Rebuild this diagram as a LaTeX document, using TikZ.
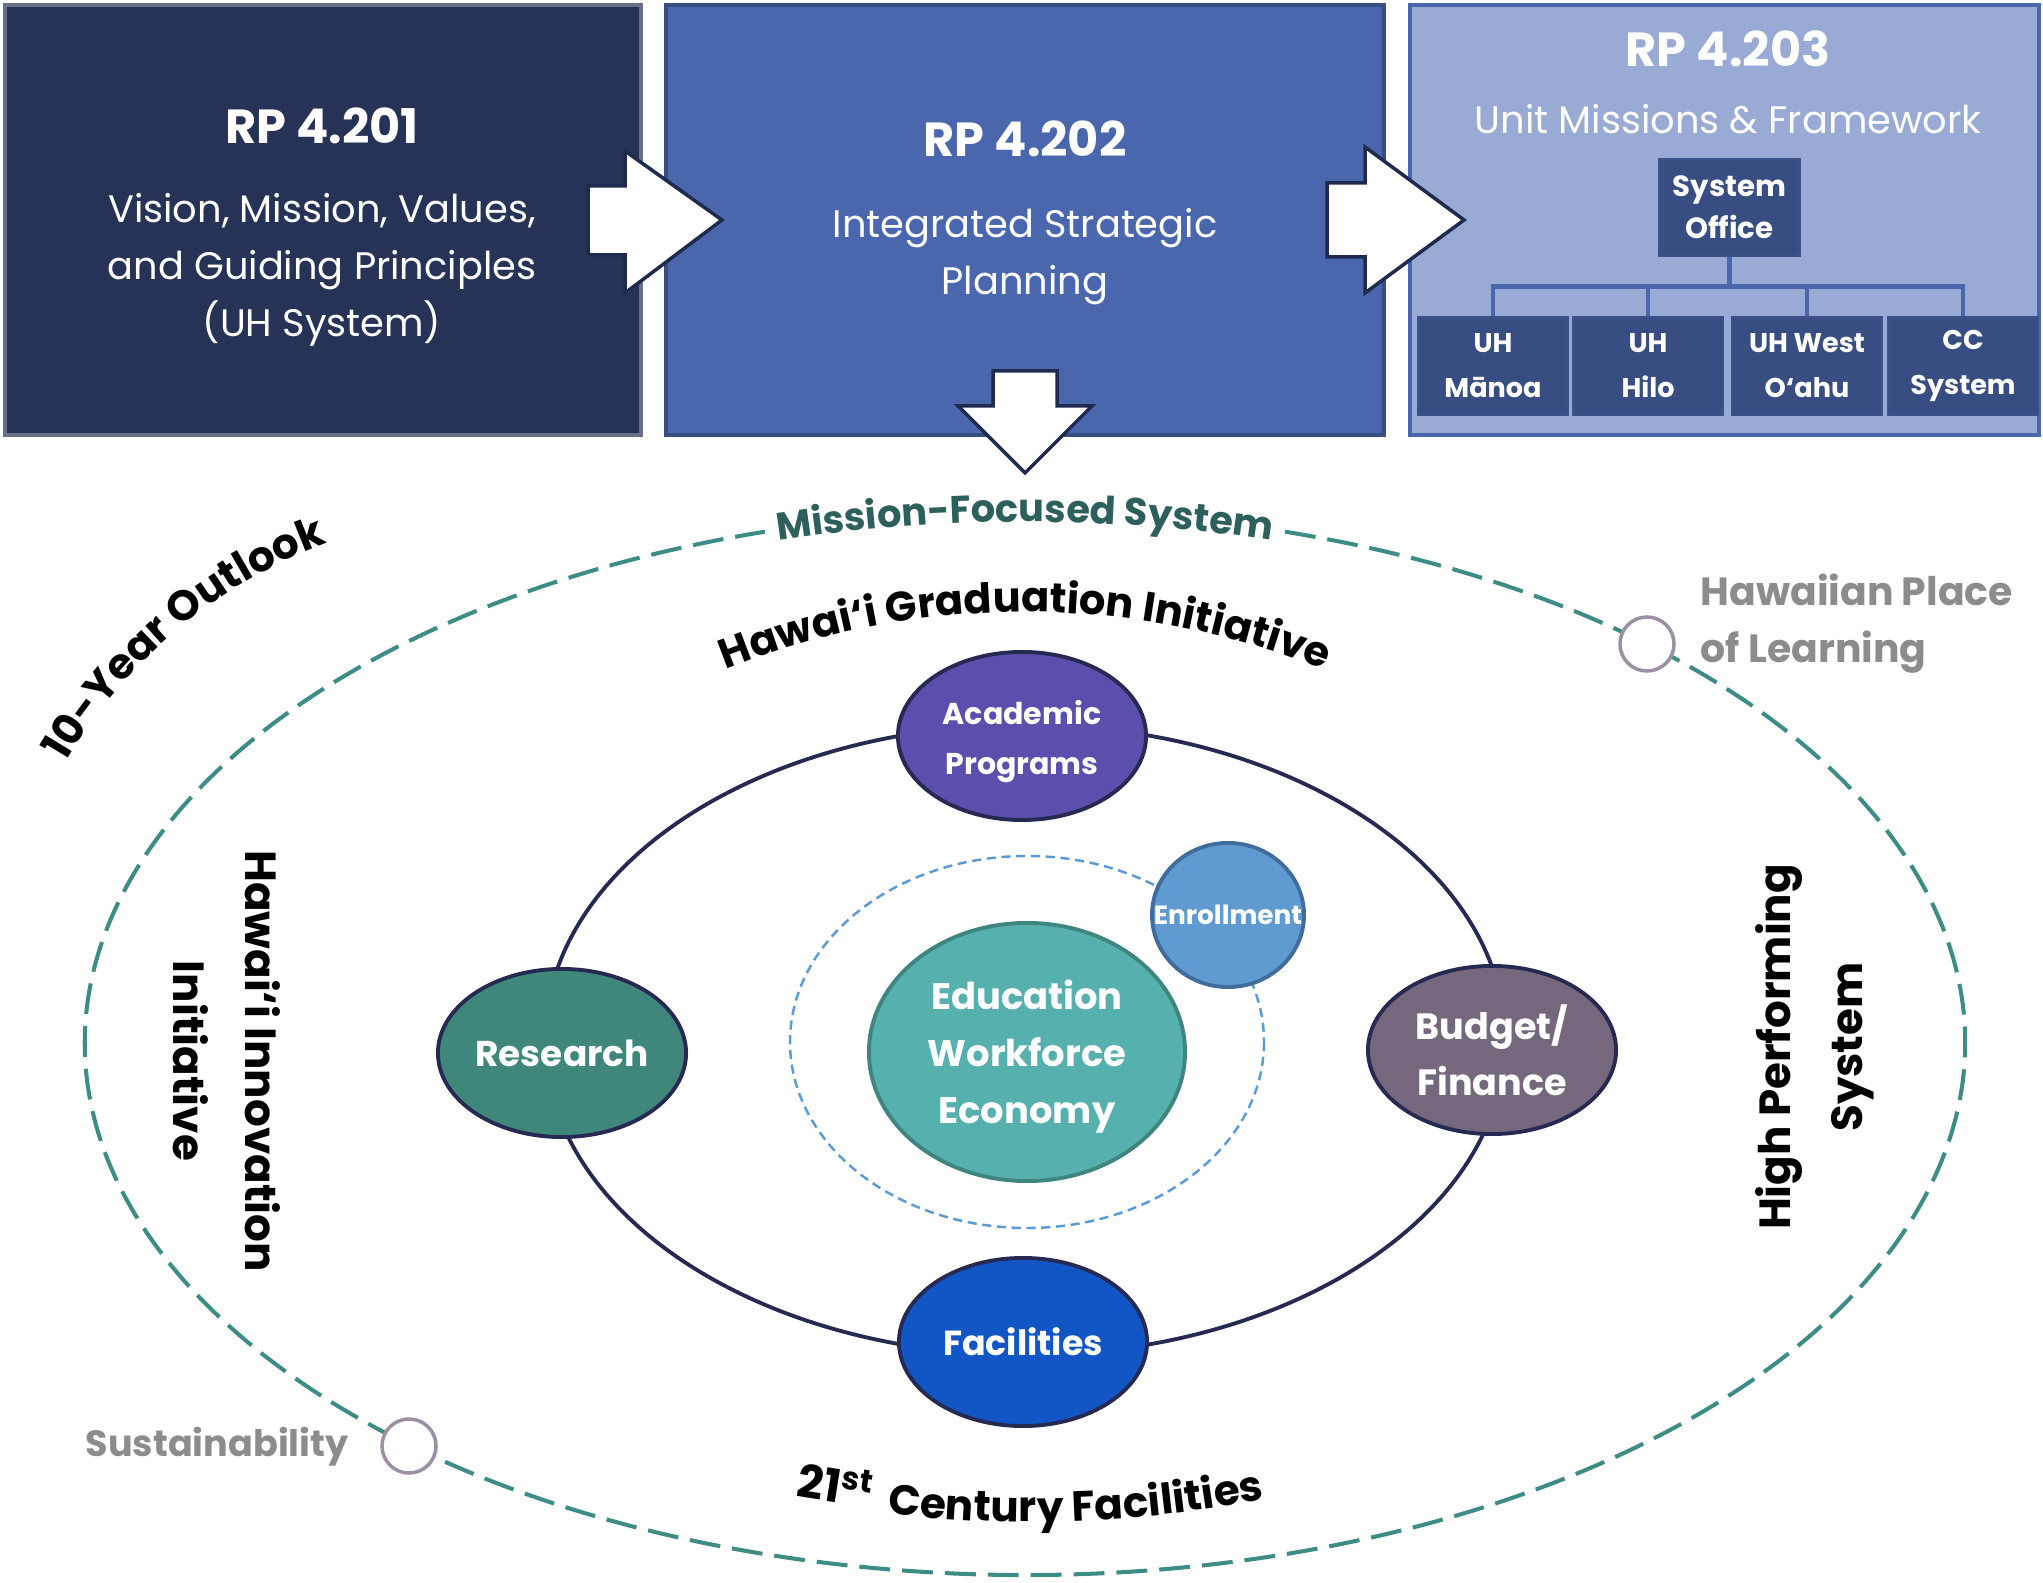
\documentclass[tikz,border=0pt]{standalone}
\usepackage{fontspec}
\setmainfont{Poppins}
\usetikzlibrary{shapes.geometric,decorations.text,positioning}
\definecolor{navyone}{HTML}{263356}
\definecolor{blueone}{HTML}{4A67AD}
\definecolor{bluelight}{HTML}{99ABD4}
\definecolor{unitfill}{HTML}{384D82}
\definecolor{orbitline}{HTML}{262A52}
\definecolor{acadfill}{HTML}{5B4FAE}
\definecolor{resfill}{HTML}{3F877A}
\definecolor{budfill}{HTML}{76687C}
\definecolor{facfill}{HTML}{1156C4}
\definecolor{ewefill}{HTML}{56B0AE}
\definecolor{eweline}{HTML}{3E8580}
\definecolor{enrfill}{HTML}{5F9BD0}
\definecolor{enrline}{HTML}{406C9E}
\definecolor{innerdash}{HTML}{5B9BD5}
\definecolor{outerdash}{HTML}{3E8C86}
\definecolor{missionteal}{HTML}{2D605C}
\definecolor{ringline}{HTML}{9D90A3}
\definecolor{graytext}{HTML}{8C8C8C}
\definecolor{arrowline}{HTML}{1F2A4F}
\newcommand{\fsz}[2]{\fontsize{#1pt}{#2pt}\selectfont}
\newcommand{\missionfont}{\bfseries\fsz{10.9}{14}\color{missionteal}}
\newcommand{\arcfont}{\bfseries\fsz{11.8}{14}}
\newcommand{\outlookfont}{\bfseries\fsz{12}{14}}
\newcommand{\centuryfont}{\bfseries\fsz{12}{14}}

\begin{document}
\begin{tikzpicture}[x=0.01cm,y=-0.01cm,
	topbox/.style={draw=#1, line width=1.2pt, minimum height=4.3cm, inner sep=0pt},
	titletext/.style={text=white, font=\bfseries\fsz{13.6}{16}},
	bodytext/.style={text=white, font=\fsz{10.9}{16.2}, align=center},
	unitbox/.style={draw=blueone!80!black, fill=unitfill, line width=0.8pt, text=white, align=center, inner sep=0pt},
	treeline/.style={draw=blueone, line width=1.2pt},
	blockarrow/.style={fill=white, draw=arrowline, line width=1pt, line join=miter},
	orbit/.style={ellipse, draw=orbitline, line width=1.1pt, text=white, align=center, minimum width=2.48cm, minimum height=1.68cm, inner sep=0pt},
	ring/.style={circle, draw=ringline, fill=white, line width=1pt, minimum size=0.54cm, inner sep=0pt},
	graylbl/.style={text=graytext, font=\bfseries\fsz{11.2}{16.2}, align=left},
	sidelbl/.style={font=\bfseries\fsz{12.4}{20.5}, align=center}
	]
	\path[use as bounding box] (0,0) rectangle (2043,1583);

	\draw[outerdash, line width=1.15pt, dash pattern=on 8.8pt off 3.4pt] (1285,531.7) arc[start angle=-73.94, end angle=253.94, x radius=940, y radius=532];
	\draw[orbitline, line width=1.1pt] (1025,1040) ellipse[x radius=480, y radius=315];
	\draw[innerdash, line width=0.7pt, dash pattern=on 2.6pt off 1.6pt] (1027,1042) ellipse[x radius=237, y radius=186];

	\node[orbit, fill=acadfill, label={[text=white, font=\bfseries\fsz{8.55}{14.2}, align=center, yshift=-0.06cm]center:Academic\\Programs}] (acad) at (1022,736) {};
	\node[orbit, fill=resfill, font=\bfseries\fsz{10.2}{14}] (research) at (562,1053) {Research};
	\node[orbit, fill=budfill, font=\bfseries\fsz{10.4}{16}] (budget) at (1492,1050) {Budget/\\Finance};
	\node[orbit, fill=facfill, font=\bfseries\fsz{9.9}{14}] (facil) at (1023,1342) {Facilities};
	\node[ellipse, draw=eweline, fill=ewefill, line width=1.1pt, minimum width=3.16cm, minimum height=2.58cm, inner sep=0pt, label={[text=white, font=\bfseries\fsz{10.5}{16.2}, align=center, yshift=-0.05cm]center:Education\\Workforce\\Economy}] (ewe) at (1027,1052) {};
	\node[ellipse, draw=enrline, fill=enrfill, line width=1.1pt, minimum width=1.52cm, minimum height=1.44cm, inner sep=0pt, label={[text=white, font=\bfseries\fsz{7.5}{9}]center:Enrollment}] (enroll) at (1228,915) {};

	\node[ring] (hpl) at (1647,644) {};
	\node[ring] (sust) at (409,1446) {};
	\node[graylbl, anchor=west, inner sep=0pt] (hpltext) at (1700,624) {Hawaiian Place\\of Learning};
	\node[graylbl, font=\bfseries\fsz{10.4}{14}] (susttext) at (217,1447) {Sustainability};

	\path[decorate, decoration={text along path, text align=center, text={|\missionfont|Mission-Focused System}}] (676.6,559.9) arc[start angle=-112, end angle=-68, x radius=930, y radius=521];
	\path[decorate, decoration={text along path, text align=center, text={|\arcfont|Hawai‘i Graduation Initiative}}] (696.8,681.8) arc[start angle=-114, end angle=-66, radius=807];
	\path[decorate, decoration={text along path, text align=center, text={|\outlookfont|10-Year Outlook}}] (35.2,822.4) arc[start angle=203, end angle=257, radius=512];
	\path[decorate, decoration={text along path, text align=center, text={|\centuryfont|Century Facilities}}] (840.2,1507.1) arc[start angle=99, end angle=76.6, radius=1213];
	\node[font=\bfseries\fsz{13}{14}, rotate=-9, inner sep=0pt] (twentyfirst) at (836,1484) {21\textsuperscript{st}};

	\node[sidelbl, rotate=-90] (innov) at (227,1061) {Hawai‘i Innovation\\Initiative};
	\node[sidelbl, rotate=90] (highperf) at (1815,1047) {High Performing\\System};

	\node[topbox=navyone!70!white, fill=navyone, minimum width=6.36cm] (rp201) at (323,220) {};
	\node[topbox=blueone!75!black, fill=blueone, minimum width=7.18cm] (rp202) at (1025,220) {};
	\node[topbox=blueone, fill=bluelight, minimum width=6.29cm] (rp203) at (1724.5,220) {};

	\node[titletext] (t201) at (322,126) {RP 4.201};
	\node[bodytext] (b201) at (322,270) {Vision, Mission, Values,\\and Guiding Principles\\(UH System)};
	\node[titletext] (t202) at (1025,139) {RP 4.202};
	\node[bodytext] (b202) at (1025,257) {Integrated Strategic\\Planning};
	\node[titletext] (t203) at (1728,49) {RP 4.203};
	\node[bodytext] (b203) at (1728,119) {Unit Missions \& Framework};

	\node[unitbox, minimum width=1.41cm, minimum height=0.97cm, font=\bfseries\fsz{8.3}{12}] (office) at (1729.5,207.5) {System\\Office};
	\node[unitbox, minimum width=1.5cm, minimum height=0.98cm, font=\bfseries\fsz{7.7}{12.8}] (manoa) at (1493,366) {UH\\Mānoa};
	\node[unitbox, minimum width=1.5cm, minimum height=0.98cm, font=\bfseries\fsz{7.7}{12.8}] (hilo) at (1648,366) {UH\\Hilo};
	\node[unitbox, minimum width=1.5cm, minimum height=0.98cm, font=\bfseries\fsz{7.7}{12.8}] (westoahu) at (1807,366) {UH West\\O‘ahu};
	\node[unitbox, minimum width=1.5cm, minimum height=0.98cm, font=\bfseries\fsz{7.7}{12.8}] (ccsys) at (1963,366) {CC\\System};
	\draw[treeline] (office.south) -- ++(0,29) coordinate (hub);
	\foreach \u in {manoa,hilo,westoahu,ccsys}
		\draw[treeline] (hub) -| (\u.north);

	\filldraw[blockarrow] (588,186) -- (625,186) -- (625,151) -- (722,220) -- (625,293) -- (625,255) -- (588,255) -- cycle;
	\filldraw[blockarrow] (1327,183) -- (1365,183) -- (1365,147) -- (1464,220) -- (1365,293) -- (1365,257) -- (1327,257) -- cycle;
	\filldraw[blockarrow] (993,371) -- (1057,371) -- (1057,406) -- (1092,406) -- (1025,473) -- (958,406) -- (993,406) -- cycle;
\end{tikzpicture}
\end{document}
